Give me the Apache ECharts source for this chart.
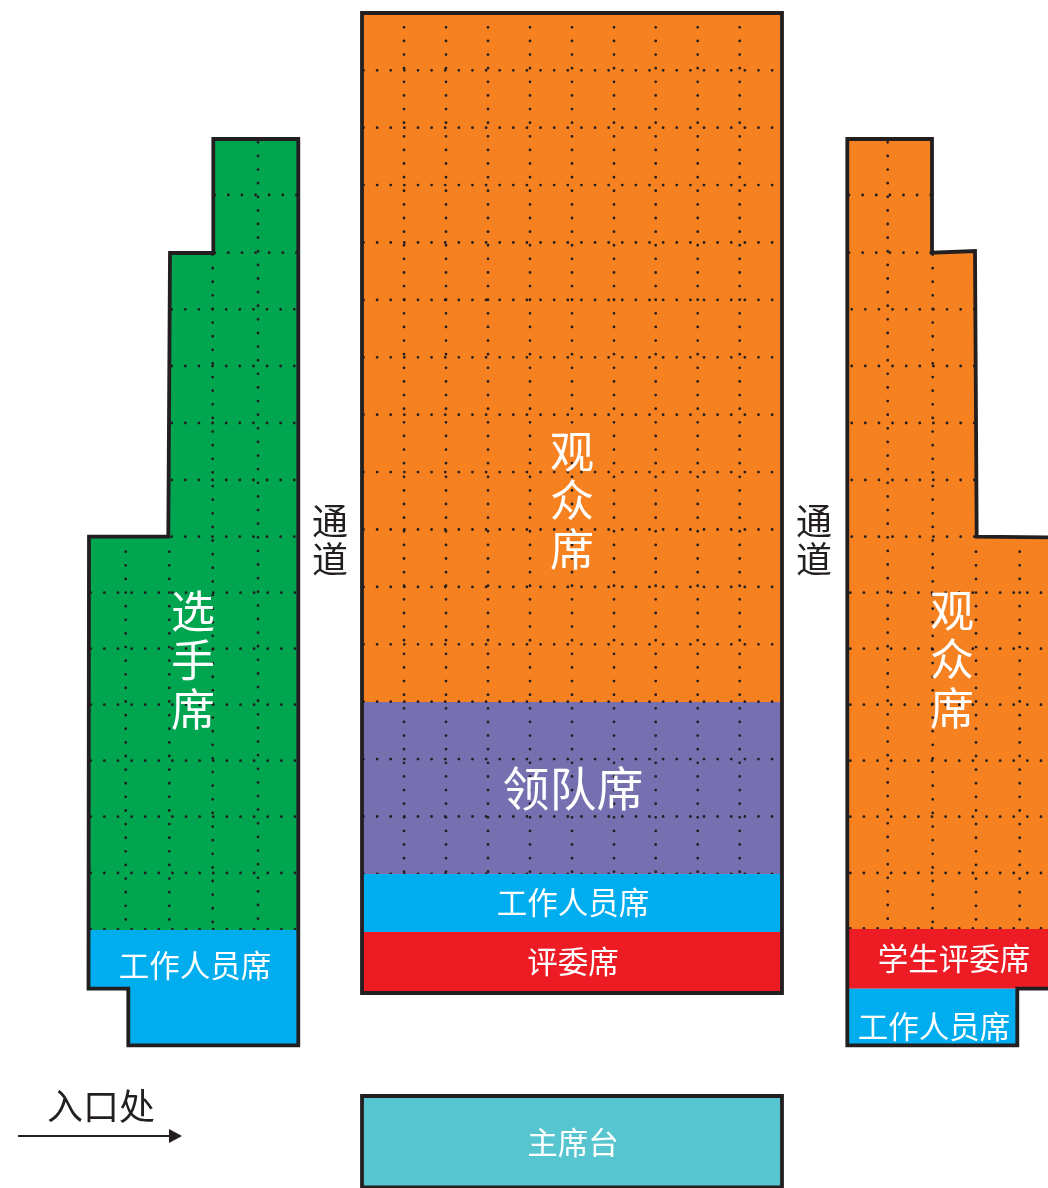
<!DOCTYPE html>
<html>
<head>
<meta charset="utf-8">
<style>html,body{margin:0;padding:0;background:#fff}#c{width:1048px;height:1188px}</style>
<script src="https://cdn.jsdelivr.net/npm/echarts@6/dist/echarts.min.js"></script>
</head>
<body>
<div id="c"></div>
<script>
// ---- region outlines, in picture units ----
const centerBlock = [[362,13],[782,13],[782,993],[362,993]];
const audienceArea = [[362,13],[782,13],[782,702],[362,702]];
const leaderArea = [[362,702],[782,702],[782,874],[362,874]];
const staffCenter = [[362,874],[782,874],[782,932],[362,932]];
const judgeCenter = [[362,932],[782,932],[782,993],[362,993]];
const podium = [[362,1096],[782,1096],[782,1187.5],[362,1187.5]];
const leftBlock = [[213.3,139],[298.3,139],[298.3,1045.3],[128.3,1045.3],[128.3,988.7],[88.5,988.7],[89,536.7],[168.3,536.7],[170,253],[213.3,253]];
const leftPlayers = [[213.3,139],[298.3,139],[298.3,930],[88.5,930],[89,536.7],[168.3,536.7],[170,253],[213.3,253]];
const leftStaff = [[88.5,930],[298.3,930],[298.3,1045.3],[128.3,1045.3],[128.3,988.7],[88.5,988.7]];
const rightBlock = [[847.3,139],[932,139],[932,252.7],[975,251],[976.7,536.7],[1060,537.5],[1060,988.7],[1017.3,988.7],[1017.3,1045.3],[847.3,1045.3]];
const rightAudience = [[847.3,139],[932,139],[932,252.7],[975,251],[976.7,536.7],[1060,537.5],[1060,929],[847.3,929]];
const rightJudge = [[847.3,929],[1060,929],[1060,988.7],[847.3,988.7]];
const rightStaff = [[847.3,988.7],[1017.3,988.7],[1017.3,1045.3],[847.3,1045.3]];
const arrowShaft = [[18,1136],[172,1136]];
const arrowHead = [[169,1129],[182,1136],[169,1143]];

// ---- seat guide lines (dotted) ----
const centerRowY = [70.3,127.7,185.1,242.5,299.9,357.3,414.7,472.1,529.5,586.9,644.3,701.7,759.1,816.5,873.9];
const centerColX = [404,446,488,530,572,614,655.7,697.7,739.7];
const leftRowTop = [195,252.7];
const leftRowMid = [309.3,366,423,480,536.7];
const leftRowLow = [592.7,648.7,704.7,760.7,816.7,873,929.3];
const leftColA = [258];
const leftColB = [212.7];
const leftColC = [125.7,169.3];
const rightRowTop = [195,252.7];
const rightRowMid = [309.3,366,423,480,536.7];
const rightRowLow = [592.7,648.7,704.7,760.7,816.7,873,928.5];
const rightColA = [887.7];
const rightColB = [932.7];
const rightColC = [976,1019.7];

// ---- labels ----
const labelText = ['观\n众\n席','领队席','工作人员席','评委席','主席台','选\n手\n席','工作人员席','观\n众\n席','学生评委席','工作人员席','通\n道','通\n道','入口处'];
const labelX = [572,573,573,573,573,193,195,952,954,934,330,814,101];
const labelY = [500,788,902.5,961,1142.5,660,965.5,659,958.5,1026.5,540,540,1106];

const INK = '#231f20', FONT = '"Noto Sans CJK SC","Noto Sans",sans-serif';
const STEP = 13.62;
const ORANGE='#f68121', GREEN='#00a54f', BLUE='#00aeef', RED='#ed1c24', PURPLE='#7670b0', TEAL='#56c5d0';

const under = [[audienceArea,ORANGE],[leaderArea,PURPLE],[leftPlayers,GREEN],[rightAudience,ORANGE],[podium,TEAL]];
const over = [[staffCenter,BLUE],[judgeCenter,RED],[leftStaff,BLUE],[rightJudge,RED],[rightStaff,BLUE]];
const outlines = [centerBlock,podium,leftBlock,rightBlock];

const h = (ys,x0,x1)=>ys.map(y=>[[x0,y],[x1,y]]);
const v = (xs,y0,y1)=>xs.map(x=>[[x,y0],[x,y1]]);
const dotted = [].concat(
  h(centerRowY,363.5,773), v(centerColX,13.7,873),
  h(leftRowTop,214.7,297), h(leftRowMid,171.7,295), h(leftRowLow,90.7,297),
  v(leftColA,142.3,919.5), v(leftColB,254.5,923), v(leftColC,551.7,920.5),
  h(rightRowTop,849,931.5), h(rightRowMid,851.7,975), h(rightRowLow,850.3,1042.5),
  v(rightColA,142.3,919.5), v(rightColB,254.5,923), v(rightColC,551.7,920.5)
);

function labelSize(i){
  const t = labelText[i];
  if (t.indexOf('\n')>=0) return t.length===3 ? {fs:36,lh:38} : {fs:44,lh:49};
  if (t==='领队席') return {fs:47,lh:47};
  if (t==='入口处') return {fs:36,lh:36};
  return {fs:30.5,lh:30.5};
}

function polySeries(list, z){
  return {type:'custom', coordinateSystem:'cartesian2d', clip:false, silent:true, z:z,
    data:list.map((_,i)=>[i]),
    renderItem:(p,api)=>({type:'polygon', shape:{points:list[p.dataIndex][0].map(q=>api.coord(q))},
      style:{fill:list[p.dataIndex][1], stroke:null}})};
}

const chart = echarts.init(document.getElementById('c'), null, {width:1048,height:1188});
chart.setOption({
  animation:false, backgroundColor:'#fff',
  grid:{left:0,right:0,top:0,bottom:0},
  xAxis:{type:'value',min:0,max:1048,show:false},
  yAxis:{type:'value',min:0,max:1188,inverse:true,show:false},
  series:[
    polySeries(under,1),
    {type:'custom',coordinateSystem:'cartesian2d',clip:false,silent:true,z:2,
      data:dotted.map((_,i)=>[i]),
      renderItem:(p,api)=>{const s=dotted[p.dataIndex],a=api.coord(s[0]),b=api.coord(s[1]);
        return {type:'line',shape:{x1:a[0],y1:a[1],x2:b[0],y2:b[1]},
          style:{stroke:INK,lineWidth:2.8,lineCap:'round',lineDash:[0.01,STEP-0.01],fill:null}};}},
    polySeries(over,3),
    {type:'custom',coordinateSystem:'cartesian2d',clip:false,silent:true,z:4,
      data:outlines.map((_,i)=>[i]),
      renderItem:(p,api)=>({type:'polygon',shape:{points:outlines[p.dataIndex].map(q=>api.coord(q))},
        style:{fill:null,stroke:INK,lineWidth:3.8,lineJoin:'miter'}})},
    {type:'custom',coordinateSystem:'cartesian2d',clip:false,silent:true,z:4,
      data:[[0]],
      renderItem:(p,api)=>({type:'group',children:[
        {type:'polyline',shape:{points:arrowShaft.map(q=>api.coord(q))},style:{stroke:INK,lineWidth:2,fill:null}},
        {type:'polygon',shape:{points:arrowHead.map(q=>api.coord(q))},style:{fill:INK}}
      ]})},
    {type:'custom',coordinateSystem:'cartesian2d',clip:false,silent:true,z:5,
      data:labelText.map((_,i)=>[labelX[i],labelY[i]]),
      renderItem:(p,api)=>{const i=p.dataIndex,c=api.coord([labelX[i],labelY[i]]),s=labelSize(i);
        const dark=i>=10;
        return {type:'text',x:c[0],y:c[1],style:{text:labelText[i],fill:dark?INK:'#ffffff',
          fontFamily:FONT,fontSize:s.fs,lineHeight:s.lh,align:'center',verticalAlign:'middle'}};}}
  ]
});
</script>
</body>
</html>
